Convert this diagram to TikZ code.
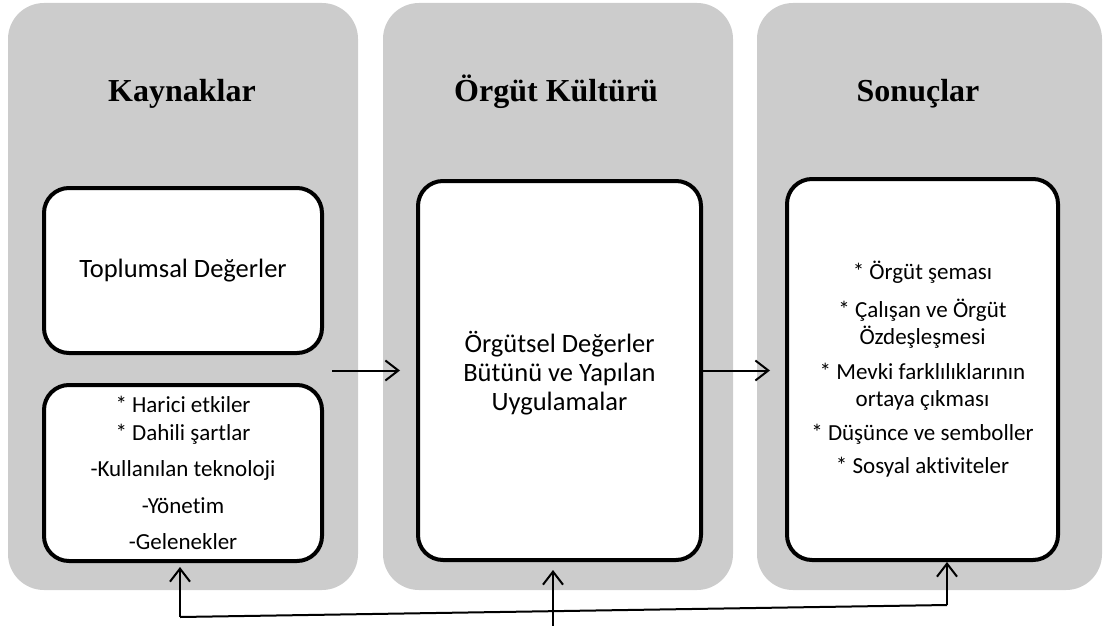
\documentclass[tikz,border=0pt]{standalone}
\usepackage{fontspec}
\setmainfont{Carlito}[Ligatures=NoCommon]
\newfontfamily\headfont{Liberation Serif}
\usetikzlibrary{arrows.meta}
\usetikzlibrary{positioning}
\definecolor{panelgray}{RGB}{204,204,204}
\tikzset{
	head/.style={font=\headfont\bfseries\fontsize{32}{38}\selectfont, anchor=base},
	box/.style={draw, line width=4pt, fill=white, rounded corners=25pt, align=center, inner sep=0pt},
	big/.style={font=\fontsize{26.5}{29}\selectfont},
	small/.style={font=\fontsize{23}{27.5}\selectfont},
	arr/.style={-{Straight Barb[length=13pt,width=20pt]}, line width=2pt},
	link/.style={line width=2pt}
}

\begin{document}
\begin{tikzpicture}[x=1pt,y=-1pt]
	\useasboundingbox (0,0) rectangle (1105,626);
	\foreach \a/\b in {8/358,383/733,757/1102}
		\fill[panelgray, rounded corners=36pt] (\a,3) rectangle (\b,590);
	\node[head] at (182,101) (kay) {Kaynaklar};
	\node[head] at (556,101) (kult) {Örgüt Kültürü};
	\node[head] at (918,101) (son) {Sonuçlar};
	\node[box, big, minimum width=278pt, minimum height=165pt] at (183,270.5) (toplum) {Toplumsal Değerler};
	\node[box, small, minimum width=278pt, minimum height=176pt] at (183,473) (harici)
		{{*} Harici etkiler\\{*} Dahili şartlar\\[9pt]-Kullanılan teknoloji\\[9pt]-Yönetim\\[9pt]-Gelenekler};
	\node[box, big, minimum width=283pt, minimum height=379pt, text depth=-8pt] at (559.5,370.5) (orgut)
		{Örgütsel Değerler\\Bütünü ve Yapılan\\Uygulamalar};
	\node[box, small, minimum width=271pt, minimum height=381pt] at (922.5,369.5) (sonuc)
		{{*} Örgüt şeması\\[10pt]{*} Çalışan ve Örgüt\\Özdeşleşmesi\\[7pt]{*} Mevki farklılıklarının\\ortaya çıkması\\[6pt]{*} Düşünce ve semboller\\[6pt]{*} Sosyal aktiviteler};
	\draw[arr] ([xshift=8pt]toplum.east |- orgut.west) -- ([xshift=-16pt]orgut.west);
	\draw[arr] (orgut.east) -- ([xshift=-15pt]sonuc.west |- orgut.east);
	\coordinate (fl) at (180,617);
	\coordinate (fr) at (947,605);
	\coordinate (fm) at (553,626);
	\draw[link] (fl) -- (fr);
	\draw[arr, shorten >=4pt] (fl) -- (fl |- harici.south);
	\draw[arr, shorten >=8pt] (fm) -- (fm |- orgut.south);
	\draw[arr] (fr) -- (fr |- sonuc.south);
\end{tikzpicture}
\end{document}
